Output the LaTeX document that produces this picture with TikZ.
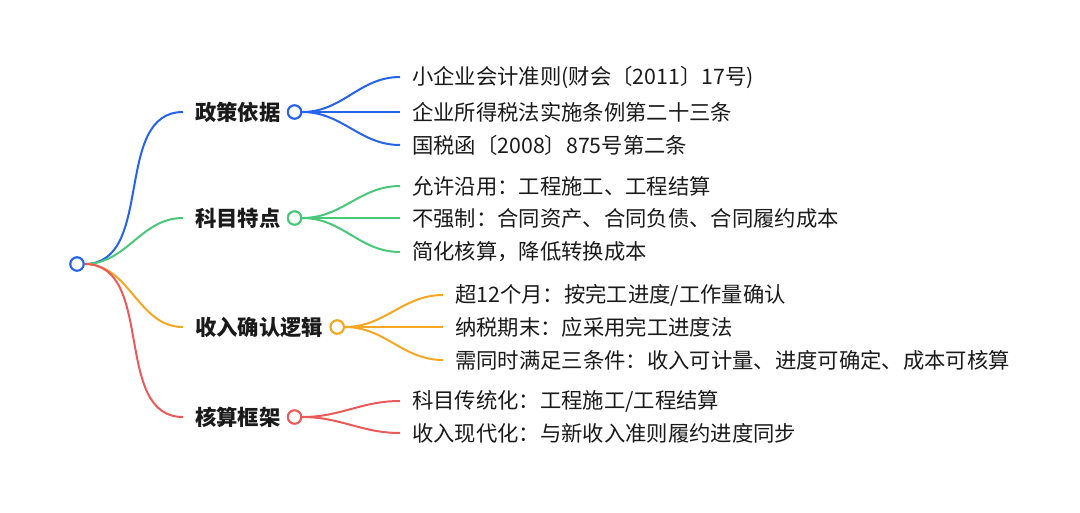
\documentclass[tikz,border=0pt]{standalone}
\usepackage{fontspec}
\setmainfont{Noto Sans CJK SC}
\usetikzlibrary{positioning}

\definecolor{cblue}{RGB}{37,99,235}
\definecolor{cgreen}{RGB}{72,200,120}
\definecolor{corange}{RGB}{245,166,35}
\definecolor{cred}{RGB}{235,90,90}
\definecolor{ctext}{RGB}{26,26,26}

\begin{document}
\begin{tikzpicture}[x=0.75pt,y=-0.75pt,
  hub/.style={circle,draw=#1,line width=1.5pt,fill=white,minimum size=10pt,inner sep=0pt},
  topic/.style={anchor=west,inner xsep=9pt,inner ysep=2pt,text=ctext,font=\fontsize{16pt}{19pt}\selectfont\bfseries},
  leaf/.style={anchor=west,inner xsep=9pt,inner ysep=2pt,text=ctext,font=\fontsize{16pt}{19pt}\selectfont},
  branch/.style={line width=1.5pt,draw=#1}]
\useasboundingbox (0,0) rectangle (1080,512);

\node[hub=cblue] (root) at (77,264) {};

\node[topic] (basis) at (183,112) {政策依据};
\node[topic] (subj) at (183,218) {科目特点};
\node[topic] (income) at (183,327) {收入确认逻辑};
\node[topic] (frame) at (183,417) {核算框架};

\node[hub=cblue, right=-4.5pt of basis] (basisHub) {};
\node[hub=cgreen, right=-4.5pt of subj] (subjHub) {};
\node[hub=corange, right=-4.5pt of income] (incomeHub) {};
\node[hub=cred, right=-4.5pt of frame] (frameHub) {};

\draw[branch=cblue] (root.east) to[out=0,in=180] (basis.west);
\draw[branch=cgreen] (root.east) to[out=0,in=180] (subj.west);
\draw[branch=corange] (root.east) to[out=0,in=180] (income.west);
\draw[branch=cred] (root.east) to[out=0,in=180] (frame.west);

% 政策依据
\node[leaf] (basisA) at (400,77) {小企业会计准则(财会〔2011〕17号)};
\node[leaf] (basisB) at (400,112) {企业所得税法实施条例第二十三条};
\node[leaf] (basisC) at (400,145) {国税函〔2008〕875号第二条};
\foreach \n in {basisA,basisB,basisC}
  \draw[branch=cblue] (basisHub.east) to[out=0,in=180] (\n.west);

% 科目特点
\node[leaf] (subjA) at (400,186) {允许沿用：工程施工、工程结算};
\node[leaf] (subjB) at (400,218) {不强制：合同资产、合同负债、合同履约成本};
\node[leaf] (subjC) at (400,252) {简化核算，降低转换成本};
\foreach \n in {subjA,subjB,subjC}
  \draw[branch=cgreen] (subjHub.east) to[out=0,in=180] (\n.west);

% 收入确认逻辑
\node[leaf] (incomeA) at (443,295) {超12个月：按完工进度/工作量确认};
\node[leaf] (incomeB) at (443,327) {纳税期末：应采用完工进度法};
\node[leaf] (incomeC) at (443,360) {需同时满足三条件：收入可计量、进度可确定、成本可核算};
\foreach \n in {incomeA,incomeB,incomeC}
  \draw[branch=corange] (incomeHub.east) to[out=0,in=180] (\n.west);

% 核算框架
\node[leaf] (frameA) at (400,401) {科目传统化：工程施工/工程结算};
\node[leaf] (frameB) at (400,433) {收入现代化：与新收入准则履约进度同步};
\foreach \n in {frameA,frameB}
  \draw[branch=cred] (frameHub.east) to[out=0,in=180] (\n.west);

% hubs drawn over the line ends
\node[hub=cblue] at (root) {};
\node[hub=cblue] at (basisHub) {};
\node[hub=cgreen] at (subjHub) {};
\node[hub=corange] at (incomeHub) {};
\node[hub=cred] at (frameHub) {};
\end{tikzpicture}
\end{document}
